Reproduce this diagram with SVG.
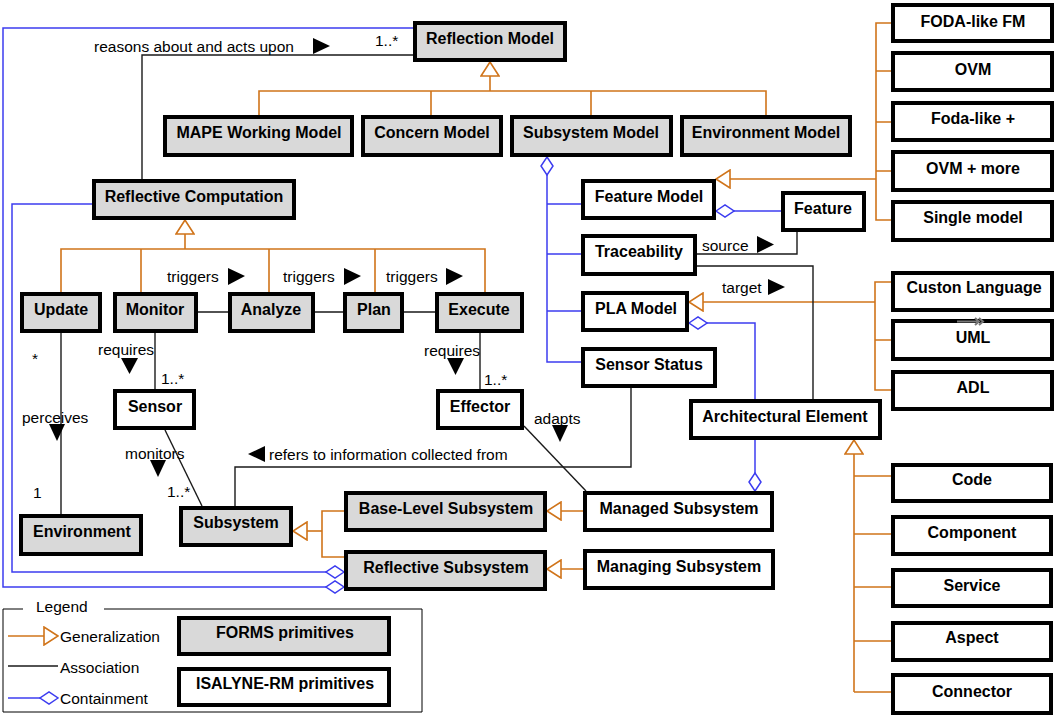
<svg xmlns="http://www.w3.org/2000/svg" width="1059" height="719" viewBox="0 0 1059 719">
<defs>
<style>
.box{stroke:#000;stroke-width:4}
.f{fill:#d9d9d9}
.w{fill:#fff}
.t{font-family:"Liberation Sans",Arial,sans-serif;font-weight:bold;font-size:16px;text-anchor:middle;fill:#000}
.l{font-family:"Liberation Sans",Arial,sans-serif;font-size:15.5px;fill:#000}
.gen{fill:none;stroke:#d0741a;stroke-width:1.6}
.asc{fill:none;stroke:#1a1a1a;stroke-width:1.4}
.con{fill:none;stroke:#3c3cf0;stroke-width:1.5}
.dir{fill:#000}
</style>
<marker id="gen" markerUnits="userSpaceOnUse" viewBox="0 0 16 20" refX="15" refY="10" markerWidth="16" markerHeight="20" orient="auto"><path d="M15,10 L1,1 L1,19 Z" fill="#fff" stroke="#d0741a" stroke-width="1.6"/></marker>
<marker id="dia" markerUnits="userSpaceOnUse" viewBox="0 0 20 14" refX="1" refY="7" markerWidth="20" markerHeight="14" orient="auto"><path d="M1,7 L10,1 L19,7 L10,13 Z" fill="#fff" stroke="#3c3cf0" stroke-width="1.5"/></marker>
</defs>
<rect width="1059" height="719" fill="#fff"/>

<g id="connectors">
<!-- generalizations -->
<path class="gen" d="M490,91 V62" marker-end="url(#gen)"/>
<path class="gen" d="M259,115 V91 H766 V115 M431,115 V91 M591,115 V91"/>
<path class="gen" d="M185,249 V220" marker-end="url(#gen)"/>
<path class="gen" d="M61,292 V249 H485 V292 M141,292 V249 M269,292 V249 M375,292 V249"/>
<path class="gen" d="M876,179 H716" marker-end="url(#gen)"/>
<path class="gen" d="M891,23 H876 V220 H891 M876,71 H891 M876,122 H891 M876,171 H891"/>
<path class="gen" d="M875,302 H689" marker-end="url(#gen)"/>
<path class="gen" d="M891,282 H875 V390 H891 M875,340 H891"/>
<path class="gen" d="M854,692 V440" marker-end="url(#gen)"/>
<path class="gen" d="M891,692 H854 M854,476 H891 M854,534 H891 M854,587 H891 M854,641 H891"/>
<path class="gen" d="M322,531 H293" marker-end="url(#gen)"/>
<path class="gen" d="M344,511 H322 V557 H344"/>
<path class="gen" d="M583,511 H547" marker-end="url(#gen)"/>
<path class="gen" d="M583,569 H547" marker-end="url(#gen)"/>
<!-- associations -->
<path class="asc" d="M413,55 H142 V179"/>
<path class="asc" d="M198,312 H228 M315,312 H343 M404,312 H435"/>
<path class="asc" d="M61,333 V514"/>
<path class="asc" d="M155,333 V389"/>
<path class="asc" d="M480,333 V389"/>
<path class="asc" d="M165,430 L202,506"/>
<path class="asc" d="M524,426 L586,491"/>
<path class="asc" d="M235,506 V467 H631 V388"/>
<path class="asc" d="M697,254 H797 V232"/>
<path class="asc" d="M697,266 H813 V399"/>
<!-- containments -->
<path class="con" d="M344,587 H3 V28 H413" marker-start="url(#dia)"/>
<path class="con" d="M344,572 H12 V204 H92" marker-start="url(#dia)"/>
<path class="con" d="M547,157 V362 H581" marker-start="url(#dia)"/>
<path class="con" d="M547,204 H581 M547,254 H581 M547,311 H581"/>
<path class="con" d="M716,211 H781" marker-start="url(#dia)"/>
<path class="con" d="M689,323 H755 V399" marker-start="url(#dia)"/>
<path class="con" d="M755,491 V440" marker-start="url(#dia)"/>
<!-- direction arrows -->
<polygon class="dir" points="313,38 330,46 313,54"/>
<polygon class="dir" points="228,268 245,276 228,285"/>
<polygon class="dir" points="344,268 361,276 344,285"/>
<polygon class="dir" points="446,268 463,276 446,285"/>
<polygon class="dir" points="121,358 138,358 129.5,374"/>
<polygon class="dir" points="447,358 464,358 455.5,375"/>
<polygon class="dir" points="49,424 65,424 57,441"/>
<polygon class="dir" points="150,460 166,460 158,477"/>
<polygon class="dir" points="265,446 248,454 265,462"/>
<polygon class="dir" points="552,425 568,425 560,442"/>
<polygon class="dir" points="757,236 774,244.5 757,253"/>
<polygon class="dir" points="768,279 785,287 768,295"/>
<!-- labels -->
<text class="l" x="94" y="52">reasons about and acts upon</text>
<text class="l" x="375" y="46">1..*</text>
<text class="l" x="167" y="282">triggers</text>
<text class="l" x="283" y="282">triggers</text>
<text class="l" x="386" y="282">triggers</text>
<text class="l" x="98" y="355">requires</text>
<text class="l" x="161" y="384">1..*</text>
<text class="l" x="424" y="356">requires</text>
<text class="l" x="484" y="385">1..*</text>
<text class="l" x="32" y="364">*</text>
<text class="l" x="22" y="423">perceives</text>
<text class="l" x="33" y="498">1</text>
<text class="l" x="125" y="459">monitors</text>
<text class="l" x="167" y="497">1..*</text>
<text class="l" x="269" y="460">refers to information collected from</text>
<text class="l" x="534" y="424">adapts</text>
<text class="l" x="702" y="251">source</text>
<text class="l" x="722" y="293">target</text>
</g>

<g id="reflection-model"><rect class="box f" x="415" y="23" width="150" height="37"/><text class="t" x="490" y="44">Reflection Model</text></g>
<g id="mape-working-model"><rect class="box f" x="165" y="117" width="187" height="38"/><text class="t" x="259" y="138">MAPE Working Model</text></g>
<g id="concern-model"><rect class="box f" x="363" y="117" width="138" height="38"/><text class="t" x="432" y="138">Concern Model</text></g>
<g id="subsystem-model"><rect class="box f" x="512" y="117" width="159" height="38"/><text class="t" x="591" y="138">Subsystem Model</text></g>
<g id="environment-model"><rect class="box f" x="682" y="117" width="168" height="38"/><text class="t" x="766" y="138">Environment Model</text></g>
<g id="reflective-computation"><rect class="box f" x="94" y="181" width="200" height="37"/><text class="t" x="194" y="202">Reflective Computation</text></g>
<g id="update"><rect class="box f" x="22" y="294" width="78" height="37"/><text class="t" x="61" y="315">Update</text></g>
<g id="monitor"><rect class="box f" x="115" y="294" width="81" height="37"/><text class="t" x="155" y="315">Monitor</text></g>
<g id="analyze"><rect class="box f" x="230" y="294" width="83" height="37"/><text class="t" x="271" y="315">Analyze</text></g>
<g id="plan"><rect class="box f" x="345" y="294" width="57" height="37"/><text class="t" x="374" y="315">Plan</text></g>
<g id="execute"><rect class="box f" x="437" y="294" width="85" height="37"/><text class="t" x="479" y="315">Execute</text></g>
<g id="sensor"><rect class="box w" x="115" y="391" width="79" height="37"/><text class="t" x="155" y="412">Sensor</text></g>
<g id="effector"><rect class="box w" x="438" y="391" width="84" height="37"/><text class="t" x="480" y="412">Effector</text></g>
<g id="environment"><rect class="box f" x="21" y="516" width="120" height="38"/><text class="t" x="82" y="537">Environment</text></g>
<g id="subsystem"><rect class="box f" x="181" y="508" width="110" height="37"/><text class="t" x="236" y="528">Subsystem</text></g>
<g id="base-level-subsystem"><rect class="box f" x="346" y="493" width="199" height="37"/><text class="t" x="446" y="514">Base-Level Subsystem</text></g>
<g id="reflective-subsystem"><rect class="box f" x="346" y="552" width="199" height="37"/><text class="t" x="446" y="573">Reflective Subsystem</text></g>
<g id="managed-subsystem"><rect class="box w" x="585" y="493" width="187" height="37"/><text class="t" x="679" y="514">Managed Subsystem</text></g>
<g id="managing-subsystem"><rect class="box w" x="585" y="551" width="188" height="37"/><text class="t" x="679" y="572">Managing Subsystem</text></g>
<g id="feature-model"><rect class="box w" x="583" y="181" width="131" height="37"/><text class="t" x="649" y="202">Feature Model</text></g>
<g id="feature"><rect class="box w" x="783" y="193" width="81" height="37"/><text class="t" x="823" y="214">Feature</text></g>
<g id="traceability"><rect class="box w" x="583" y="236" width="112" height="38"/><text class="t" x="639" y="257">Traceability</text></g>
<g id="pla-model"><rect class="box w" x="583" y="293" width="104" height="37"/><text class="t" x="636" y="314">PLA Model</text></g>
<g id="sensor-status"><rect class="box w" x="583" y="349" width="132" height="37"/><text class="t" x="649" y="370">Sensor Status</text></g>
<g id="architectural-element"><rect class="box w" x="691" y="401" width="189" height="37"/><text class="t" x="785" y="422">Architectural Element</text></g>
<g id="custon-language"><rect class="box w" x="893" y="273" width="159" height="37"/><text class="t" x="974" y="293">Custon Language</text></g>
<g id="uml"><rect class="box w" x="893" y="321" width="159" height="38"/><text class="t" x="973" y="343">UML</text><path d="M957,321.5 H979 M975,318 L979,321.5 L975,325 M979,318 L983,321.5 L979,325" fill="none" stroke="#777" stroke-width="2"/></g>
<g id="adl"><rect class="box w" x="893" y="372" width="159" height="37"/><text class="t" x="973" y="393">ADL</text></g>
<g id="foda-like-fm"><rect class="box w" x="893" y="5" width="159" height="36"/><text class="t" x="973" y="27">FODA-like FM</text></g>
<g id="ovm"><rect class="box w" x="893" y="53" width="159" height="37"/><text class="t" x="973" y="75">OVM</text></g>
<g id="foda-like-plus"><rect class="box w" x="893" y="103" width="159" height="37"/><text class="t" x="973" y="124">Foda-like +</text></g>
<g id="ovm-more"><rect class="box w" x="893" y="152" width="159" height="38"/><text class="t" x="973" y="174">OVM + more</text></g>
<g id="single-model"><rect class="box w" x="893" y="202" width="159" height="38"/><text class="t" x="973" y="223">Single model</text></g>
<g id="code"><rect class="box w" x="893" y="465" width="158" height="36"/><text class="t" x="972" y="485">Code</text></g>
<g id="component"><rect class="box w" x="893" y="517" width="158" height="37"/><text class="t" x="972" y="538">Component</text></g>
<g id="service"><rect class="box w" x="893" y="570" width="158" height="36"/><text class="t" x="972" y="591">Service</text></g>
<g id="aspect"><rect class="box w" x="893" y="623" width="158" height="37"/><text class="t" x="972" y="643">Aspect</text></g>
<g id="connector"><rect class="box w" x="893" y="675" width="158" height="38"/><text class="t" x="972" y="697">Connector</text></g>

<g id="legend">
<path d="M23,609 H3 V712 H422 V609 H104" fill="none" stroke="#000" stroke-width="1"/>
<text class="l" x="36" y="612">Legend</text>
<path class="gen" d="M8,636 H58" marker-end="url(#gen)"/>
<text class="l" x="60" y="642">Generalization</text>
<path class="asc" d="M8,666 H58"/>
<text class="l" x="60" y="673">Association</text>
<path class="con" d="M58,698 H8" marker-start="url(#dia)"/>
<text class="l" x="60" y="704">Containment</text>
<g id="legend-forms"><rect class="box f" x="179" y="618" width="210" height="36"/><text class="t" x="285" y="638">FORMS primitives</text></g>
<g id="legend-isalyne"><rect class="box w" x="179" y="669" width="210" height="36"/><text class="t" x="285" y="689">ISALYNE-RM primitives</text></g>
</g>
</svg>
